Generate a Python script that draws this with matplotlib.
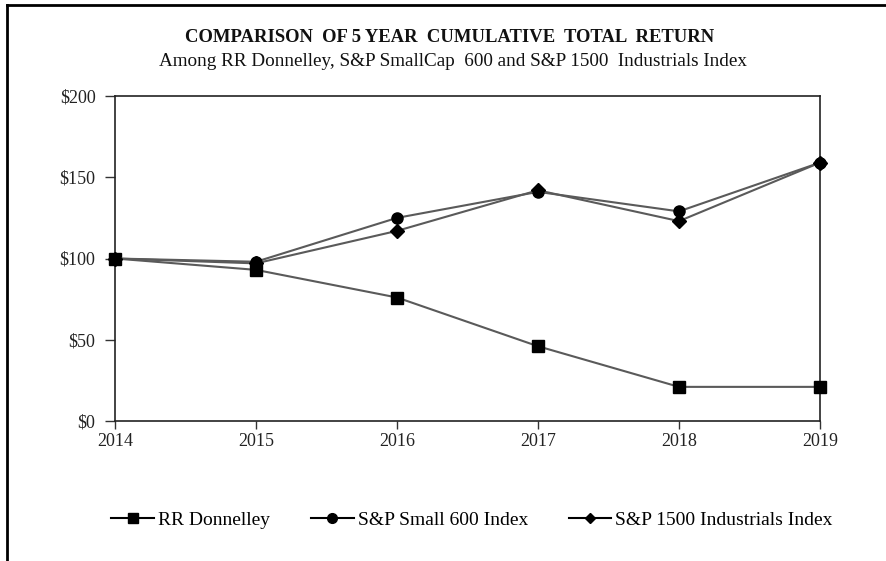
import matplotlib
matplotlib.use("Agg")
import matplotlib.pyplot as plt
from matplotlib.lines import Line2D

years = [2014, 2015, 2016, 2017, 2018, 2019]
rr_donnelley = [100, 93, 76, 46, 21, 21]
sp_small600 = [100, 98, 125, 141, 129, 159]
sp_1500_ind = [100, 97, 117, 142, 123, 159]
series_names = ["RR Donnelley", "S&P Small 600 Index", "S&P 1500 Industrials Index"]
yticks = [0, 50, 100, 150, 200]

plt.rcParams['font.family'] = ['Liberation Serif', 'DejaVu Serif']

fig = plt.figure(figsize=(8.86, 5.61), dpi=100)
ax = fig.add_axes([115/886, 140/561, 705/886, 325/561])

line_color = '#5a5a5a'
ax.plot(years, rr_donnelley, color=line_color, lw=1.5, marker='s', ms=8,
        mfc='black', mec='black', label=series_names[0], zorder=3, clip_on=False)
ax.plot(years, sp_small600, color=line_color, lw=1.5, marker='o', ms=8,
        mfc='black', mec='black', label=series_names[1], zorder=3, clip_on=False)
ax.plot(years, sp_1500_ind, color=line_color, lw=1.5, marker='D', ms=7,
        mfc='black', mec='black', label=series_names[2], zorder=3, clip_on=False)

ax.set_xlim(2014, 2019)
ax.set_ylim(0, 200)
ax.set_xticks(years)
ax.set_xticklabels([str(y) for y in years], fontsize=13, color='#222222')
ax.set_yticks(yticks)
ax.set_yticklabels([f"${v}" for v in yticks], fontsize=13, color='#222222')
ax.tick_params(axis='y', direction='out', length=7, width=1, color='#333333', pad=7)
ax.tick_params(axis='x', direction='out', length=6, width=1, color='#333333', pad=3)
for s in ax.spines.values():
    s.set_color('#222222')
    s.set_linewidth(1.2)

fig.text(450/886, 1 - 38/561, "COMPARISON  OF 5 YEAR  CUMULATIVE  TOTAL  RETURN",
         ha='center', va='center', fontsize=13.4, fontweight='bold', color='#111111')
fig.text(453/886, 1 - 61/561, "Among RR Donnelley, S&P SmallCap  600 and S&P 1500  Industrials Index",
         ha='center', va='center', fontsize=13.8, color='#111111')

handles = [
    Line2D([], [], color='black', lw=1.5, marker='s', ms=7, mfc='black', mec='black'),
    Line2D([], [], color='black', lw=1.5, marker='o', ms=7, mfc='black', mec='black'),
    Line2D([], [], color='black', lw=1.5, marker='D', ms=5, mfc='black', mec='black'),
]
fig.legend(handles, series_names, loc='center', bbox_to_anchor=(472/886, 1 - 520/561),
           ncol=3, frameon=False, fontsize=14, handlelength=2.2, handletextpad=0.2,
           columnspacing=2.1)

# outer frame lines (top and left)
fig.add_artist(Line2D([7/886, 1], [1 - 5/561, 1 - 5/561], color='black', lw=2, transform=fig.transFigure))
fig.add_artist(Line2D([7/886, 7/886], [0, 1 - 5/561], color='black', lw=2, transform=fig.transFigure))

fig.savefig("out.png", dpi=100)
